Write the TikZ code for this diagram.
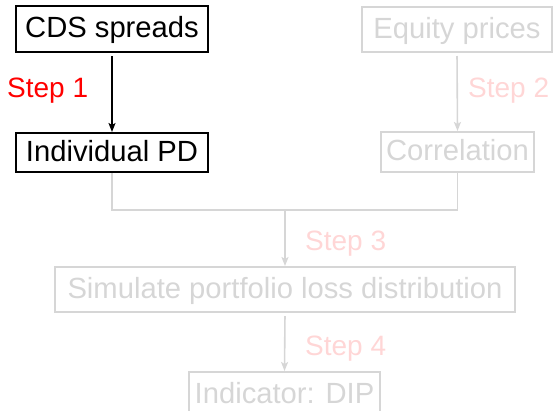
\documentclass[tikz,border=0pt]{standalone}
\usepackage{fontspec}
\setmainfont{Liberation Sans}
\usetikzlibrary{arrows.meta}
\definecolor{fadegray}{RGB}{214,214,214}
\definecolor{fadered}{RGB}{255,214,214}
\tikzset{
  x=1pt, y=-1pt,
  every node/.style={font=\fontsize{29.2}{33}\selectfont, inner sep=0pt},
  stagebox/.style={draw, line width=2pt, text height=21pt, text depth=4pt, anchor=center},
  activebox/.style={stagebox, draw=black, text=black},
  fadedbox/.style={stagebox, draw=fadegray, text=fadegray},
  steplabel/.style={anchor=base west, font=\fontsize{28}{32}\selectfont},
  flow/.style={line width=1.6pt, -{Stealth[length=9pt,width=7pt,inset=2pt]}},
  activeflow/.style={flow, draw=black},
  fadedflow/.style={flow, draw=fadegray},
  fadedline/.style={line width=1.6pt, draw=fadegray},
}
\begin{document}
\begin{tikzpicture}
  \useasboundingbox (0,0) rectangle (553,410);

  % input boxes
  \node[activebox, minimum width=192pt, minimum height=46pt] (cds) at (112,29) {CDS spreads};
  \node[activebox, minimum width=192pt, minimum height=39pt] (pd) at (112,152.5) {Individual PD};
  \node[fadedbox, minimum width=190pt, minimum height=45pt] (eq) at (457,29.5) {Equity prices};
  \node[fadedbox, minimum width=153pt, minimum height=40pt] (corr) at (457.5,152) {Correlation};

  % simulation and indicator
  \node[fadedbox, minimum width=460pt, minimum height=45pt] (sim) at (285,289.5) {Simulate portfolio loss distribution};
  \node[fadedbox, minimum width=191pt, minimum height=45pt] (dip) at (284.5,394.5) {Indicator: DIP};

  % step labels
  \node[steplabel, text=red] (s1) at (7,97) {Step 1};
  \node[steplabel, text=fadered] (s2) at (468,97) {Step 2};
  \node[steplabel, text=fadered] (s3) at (305,250) {Step 3};
  \node[steplabel, text=fadered] (s4) at (305,355) {Step 4};

  % connectors
  \coordinate (join) at (285,210);
  \draw[activeflow, shorten <=3pt] (cds.south) -- (pd.north);
  \draw[fadedflow, shorten <=3pt] (eq.south) -- (corr.north);
  \draw[fadedline] (pd.south) |- (join) -| (corr.south);
  \draw[fadedflow] (join) -- (sim.north);
  \draw[fadedflow, shorten <=3pt] (sim.south) -- (dip.north);
\end{tikzpicture}
\end{document}
